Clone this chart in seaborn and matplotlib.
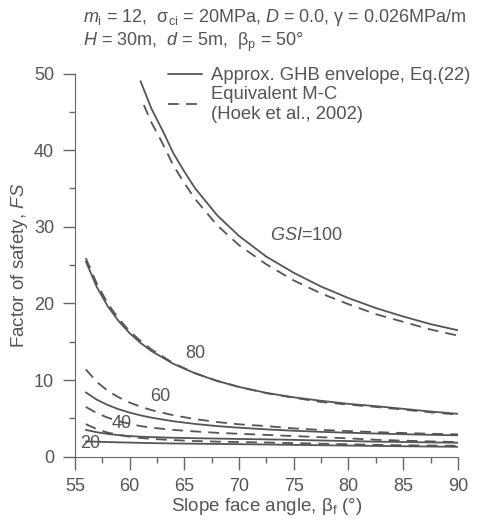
import pandas as pd
import seaborn as sns
import matplotlib.pyplot as plt

# slope face angle (deg) grids
x_s100 = [61, 62, 63, 64, 65, 66, 68, 70, 72.5, 75, 77.5, 80, 82.5, 85, 87.5, 90]
x_d100 = [61.3, 62, 63, 64, 65, 66, 68, 70, 72.5, 75, 77.5, 80, 82.5, 85, 87.5, 90]
x_low = [56, 57, 58, 59, 60, 61, 62, 64, 66, 68, 70, 72.5, 75, 77.5, 80, 82.5, 85, 87.5, 90]

# approx. GHB envelope, Eq.(22)
ghb_100 = [49.0, 45.4, 42.6, 39.6, 37.2, 35.0, 31.5, 28.8, 26.1, 24.0, 22.2, 20.7, 19.4, 18.3, 17.3, 16.5]
ghb_80 = [25.5, 22.15, 19.64, 17.69, 16.13, 14.85, 13.79, 12.12, 10.87, 9.89, 9.11, 8.33, 7.75, 7.3, 6.9, 6.6, 6.25, 5.9, 5.6]
ghb_60 = [8.4, 7.45, 6.75, 6.2, 5.76, 5.4, 5.1, 4.63, 4.28, 4.0, 3.79, 3.57, 3.39, 3.25, 3.13, 3.03, 2.94, 2.86, 2.8]
ghb_40 = [3.5, 3.2, 2.98, 2.82, 2.7, 2.62, 2.56, 2.48, 2.42, 2.37, 2.32, 2.27, 2.2, 2.12, 2.05, 1.97, 1.92, 1.87, 1.83]
ghb_20 = [2.0, 1.96, 1.92, 1.88, 1.85, 1.81, 1.78, 1.73, 1.7, 1.67, 1.64, 1.6, 1.55, 1.5, 1.46, 1.41, 1.37, 1.33, 1.3]

# equivalent M-C (Hoek et al., 2002)
mc_100 = [45.9, 43.6, 40.9, 38.0, 35.7, 33.6, 30.2, 27.6, 25.1, 23.0, 21.3, 19.9, 18.6, 17.6, 16.6, 15.8]
mc_80 = [25.9, 22.6, 20.0, 18.0, 16.4, 15.1, 14.0, 12.2, 10.9, 9.9, 9.1, 8.3, 7.7, 7.15, 6.8, 6.5, 6.15, 5.8, 5.5]
mc_60 = [11.4, 9.77, 8.61, 7.75, 7.07, 6.53, 6.09, 5.41, 4.91, 4.53, 4.23, 4.0, 3.7, 3.5, 3.35, 3.21, 3.1, 3.0, 2.92]
mc_40 = [6.5, 5.7, 5.1, 4.65, 4.3, 4.0, 3.8, 3.5, 3.3, 3.12, 3.0, 2.85, 2.7, 2.55, 2.4, 2.22, 2.1, 2.0, 1.92]
mc_20 = [4.26, 3.6, 3.15, 2.85, 2.62, 2.45, 2.33, 2.17, 2.05, 1.97, 1.92, 1.86, 1.78, 1.7, 1.63, 1.55, 1.5, 1.46, 1.43]

gsi_labels = ["$GSI$=100", "80", "60", "40", "20"]
label_pos = [(72.8, 28.9), (66.0, 13.5), (62.8, 7.8), (59.3, 4.35), (56.4, 1.75)]

sns.set_style("ticks")
plt.rcParams['font.family'] = ['Liberation Sans', 'DejaVu Sans']
plt.rcParams['mathtext.fontset'] = 'custom'
plt.rcParams['mathtext.rm'] = 'Liberation Sans'
plt.rcParams['mathtext.it'] = 'Liberation Sans:italic'
plt.rcParams['mathtext.bf'] = 'Liberation Sans:bold'

grey = '#555555'
frames = []
for gsi, xs, ys in [(100, x_s100, ghb_100), (80, x_low, ghb_80), (60, x_low, ghb_60),
                    (40, x_low, ghb_40), (20, x_low, ghb_20)]:
    frames.append(pd.DataFrame({'angle': xs, 'FS': ys, 'GSI': gsi, 'method': 'ghb'}))
for gsi, xs, ys in [(100, x_d100, mc_100), (80, x_low, mc_80), (60, x_low, mc_60),
                    (40, x_low, mc_40), (20, x_low, mc_20)]:
    frames.append(pd.DataFrame({'angle': xs, 'FS': ys, 'GSI': gsi, 'method': 'mc'}))
df = pd.concat(frames, ignore_index=True)

fig = plt.figure(figsize=(4.8, 5.25), dpi=100)
ax = fig.add_axes([0.156, 0.13, 0.798, 0.73])

for (gsi, method), sub in df.groupby(['GSI', 'method']):
    ls = '-' if method == 'ghb' else (0, (6, 4))
    sns.lineplot(data=sub, x='angle', y='FS', ax=ax, color=grey, lw=1.3,
                 linestyle=ls, sort=True, estimator=None)

for txt, (lx, ly) in zip(gsi_labels, label_pos):
    ax.text(lx, ly, txt, fontsize=13, color=grey, ha='left' if txt.startswith('$') else 'center',
            va='center')

ax.set_xlim(55, 90)
ax.set_ylim(0, 50)
ax.set_xticks(range(55, 91, 5))
ax.set_xticks([57.5 + 5 * i for i in range(7)], minor=True)
ax.set_yticks(range(0, 51, 10))
ax.set_yticks(range(5, 50, 10), minor=True)
sns.despine(ax=ax)
for sp in ax.spines.values():
    sp.set_color('#666666')
ax.tick_params(which='major', length=9, width=1, color='#666666', labelsize=13,
               labelcolor=grey, pad=6)
ax.tick_params(which='minor', length=4.5, width=1, color='#666666')
ax.set_xlabel('Slope face angle, β$_\\mathrm{f}$ (°)', fontsize=13.5, color=grey, labelpad=1)
ax.set_ylabel('Factor of safety, $FS$', fontsize=13.5, color=grey, labelpad=3)

handles = [plt.Line2D([], [], color=grey, lw=1.3),
           plt.Line2D([], [], color=grey, lw=1.3, linestyle=(0, (6, 4)))]
leg = ax.legend(handles, ['Approx. GHB envelope, Eq.(22)', 'Equivalent M-C\n(Hoek et al., 2002)'],
                loc='upper left', bbox_to_anchor=(0.2, 1.06), frameon=False, fontsize=13.3,
                handlelength=1.85, handletextpad=0.45, labelspacing=0.1)
for t in leg.get_texts():
    t.set_color(grey)

fig.text(0.173, 0.966, '$m_\\mathrm{i}$ = 12,  σ$_\\mathrm{ci}$ = 20MPa, $D$ = 0.0, γ = 0.026MPa/m',
         fontsize=13, color=grey, va='center')
fig.text(0.173, 0.92, '$H$ = 30m,  $d$ = 5m,  β$_\\mathrm{p}$ = 50°',
         fontsize=13, color=grey, va='center')

fig.savefig('out.png', dpi=100)
